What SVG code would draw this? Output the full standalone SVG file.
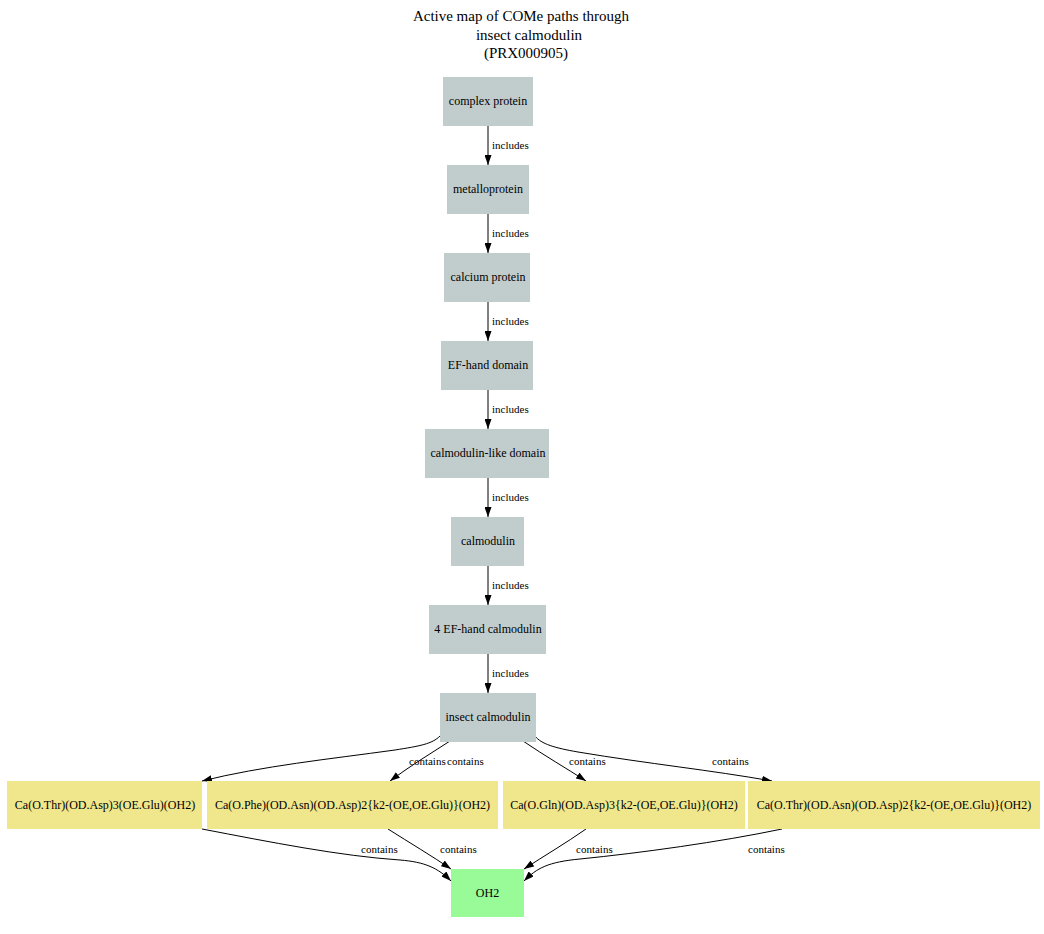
<svg xmlns="http://www.w3.org/2000/svg" width="1044" height="934" viewBox="0 0 1044 934">
  <style>
    .title { font-family: "Liberation Serif", "Times New Roman", serif; font-size: 15px; fill: #000; text-anchor: middle; }
    .grey { fill: #c1cdcd; }
    .khaki { fill: #f0e68c; }
    .green { fill: #98fb98; }
    .lbl { font-family: "Liberation Serif", "Times New Roman", serif; font-size: 12px; fill: #000; text-anchor: middle; }
    .elbl { font-family: "Liberation Serif", "Times New Roman", serif; font-size: 11px; fill: #000; }
    .edge { fill: none; stroke: #000; stroke-width: 1; marker-end: url(#arrow); }
  </style>
  <defs>
    <marker id="arrow" viewBox="0 0 10 7" refX="10" refY="3.5" markerWidth="10" markerHeight="7" markerUnits="userSpaceOnUse" orient="auto">
      <path d="M0,0 L10,3.5 L0,7 z" fill="#000"/>
    </marker>
  </defs>
  <rect width="1044" height="934" fill="#fff"/>

  <!-- title -->
  <g id="title">
    <text class="title" x="521" y="21">Active map of COMe paths through</text>
    <text class="title" x="529" y="40">insect calmodulin</text>
    <text class="title" x="526" y="58">(PRX000905)</text>
  </g>

  <!-- connectors -->
  <g id="connectors">
    <path class="edge" d="M488,126 L488,165"/>
    <path class="edge" d="M488,214 L488,253"/>
    <path class="edge" d="M488,302 L488,341"/>
    <path class="edge" d="M488,390 L488,429"/>
    <path class="edge" d="M488,478 L488,517"/>
    <path class="edge" d="M488,566 L488,605"/>
    <path class="edge" d="M488,654 L488,693"/>

    <path class="edge" d="M440,736 C432,744 420,746 395,750 C330,759 262,766 202,781"/>
    <path class="edge" d="M450,741 C430,754 410,766 390,781"/>
    <path class="edge" d="M523,741 C545,756 566,768 586,781"/>
    <path class="edge" d="M535,736 C541,744 555,748 578,752 C650,764 710,770 772,781"/>

    <path class="edge" d="M202,829 C270,842 340,856 400,860 C425,862 438,868 451,881"/>
    <path class="edge" d="M388,829 C410,843 432,856 451,869"/>
    <path class="edge" d="M586,829 C566,843 544,856 524,869"/>
    <path class="edge" d="M782,829 C720,842 640,853 580,859 C548,862 537,868 524,881"/>

    <text class="elbl" x="492" y="149">includes</text>
    <text class="elbl" x="492" y="237">includes</text>
    <text class="elbl" x="492" y="325">includes</text>
    <text class="elbl" x="492" y="413">includes</text>
    <text class="elbl" x="492" y="501">includes</text>
    <text class="elbl" x="492" y="589">includes</text>
    <text class="elbl" x="492" y="677">includes</text>

    <text class="elbl" x="409" y="765">contains</text>
    <text class="elbl" x="447" y="765">contains</text>
    <text class="elbl" x="569" y="765">contains</text>
    <text class="elbl" x="712" y="765">contains</text>

    <text class="elbl" x="361" y="853">contains</text>
    <text class="elbl" x="440" y="853">contains</text>
    <text class="elbl" x="576" y="853">contains</text>
    <text class="elbl" x="748" y="853">contains</text>
  </g>

  <!-- nodes -->
  <g id="n-complex-protein"><rect class="grey" x="443" y="77" width="90" height="49"/><text class="lbl" x="488" y="105">complex protein</text></g>
  <g id="n-metalloprotein"><rect class="grey" x="447" y="165" width="82" height="49"/><text class="lbl" x="488" y="193">metalloprotein</text></g>
  <g id="n-calcium-protein"><rect class="grey" x="444" y="253" width="86" height="49"/><text class="lbl" x="488" y="281">calcium protein</text></g>
  <g id="n-ef-hand-domain"><rect class="grey" x="441" y="341" width="92" height="49"/><text class="lbl" x="488" y="369">EF-hand domain</text></g>
  <g id="n-calmodulin-like-domain"><rect class="grey" x="425" y="429" width="124" height="49"/><text class="lbl" x="488" y="457">calmodulin-like domain</text></g>
  <g id="n-calmodulin"><rect class="grey" x="451" y="517" width="73" height="49"/><text class="lbl" x="488" y="545">calmodulin</text></g>
  <g id="n-4-ef-hand-calmodulin"><rect class="grey" x="429" y="605" width="117" height="49"/><text class="lbl" x="488" y="633">4 EF-hand calmodulin</text></g>
  <g id="n-insect-calmodulin"><rect class="grey" x="440" y="693" width="96" height="49"/><text class="lbl" x="488" y="721">insect calmodulin</text></g>

  <g id="n-site-1"><rect class="khaki" x="7" y="781" width="195" height="48"/><text class="lbl" x="105" y="809">Ca(O.Thr)(OD.Asp)3(OE.Glu)(OH2)</text></g>
  <g id="n-site-2"><rect class="khaki" x="207" y="781" width="291" height="48"/><text class="lbl" x="352.5" y="809">Ca(O.Phe)(OD.Asn)(OD.Asp)2{k2-(OE,OE.Glu)}(OH2)</text></g>
  <g id="n-site-3"><rect class="khaki" x="503" y="781" width="242" height="48"/><text class="lbl" x="624" y="809">Ca(O.Gln)(OD.Asp)3{k2-(OE,OE.Glu)}(OH2)</text></g>
  <g id="n-site-4"><rect class="khaki" x="748" y="781" width="292" height="48"/><text class="lbl" x="894" y="809">Ca(O.Thr)(OD.Asn)(OD.Asp)2{k2-(OE,OE.Glu)}(OH2)</text></g>

  <g id="n-oh2"><rect class="green" x="451" y="869" width="73" height="48"/><text class="lbl" x="487.5" y="897">OH2</text></g>
</svg>
